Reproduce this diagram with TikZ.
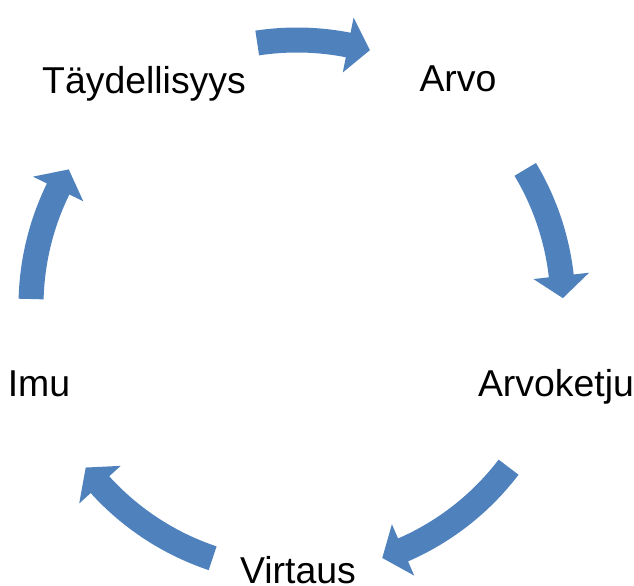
\documentclass[tikz,border=0pt]{standalone}
\usepackage{fontspec}
\setmainfont{Liberation Sans}
\definecolor{cycleblue}{HTML}{4F81BD}
\tikzset{
    steplabel/.style = {anchor=base, inner sep=0pt, font=\fontsize{26.6pt}{30pt}\selectfont},
    arrowfill/.style = {fill=cycleblue}
}
% curved block arrow on the cycle, #1 = tail angle, #2 = tip angle
\newcommand{\cyclearrow}[2]{%
    \pgfmathsetmacro{\headang}{#2+4.8}
    \fill[arrowfill]
        (#1:278.5) arc[start angle=#1, end angle=\headang, radius=278.5]
        -- (\headang:294) -- (#2:266) -- (\headang:238)
        -- (\headang:253.5) arc[start angle=\headang, end angle=#1, radius=253.5]
        -- cycle;
}
\begin{document}
\begin{tikzpicture}[x=0.025cm, y=0.025cm]
        \useasboundingbox
            (0,0) rectangle (634,586);
        \coordinate (c) at (297,280);
        \node[steplabel] (arvo) at (458,494) {Arvo};
        \node[steplabel] (arvoketju) at (556,189) {Arvoketju};
        \node[steplabel] (virtaus) at (298,2) {Virtaus};
        \node[steplabel] (imu) at (39,189) {Imu};
        \node[steplabel] (taydellisyys) at (144,492) {Täydellisyys};
        \begin{scope}[shift={(c)}]
            \cyclearrow{98.6}{74.1}
            \cyclearrow{30.9}{1.7}
            \cyclearrow{-37.3}{-71.3}
            \cyclearrow{-108.5}{-142.6}
            \cyclearrow{178.5}{149.1}
        \end{scope}
    \end{tikzpicture}
\end{document}
